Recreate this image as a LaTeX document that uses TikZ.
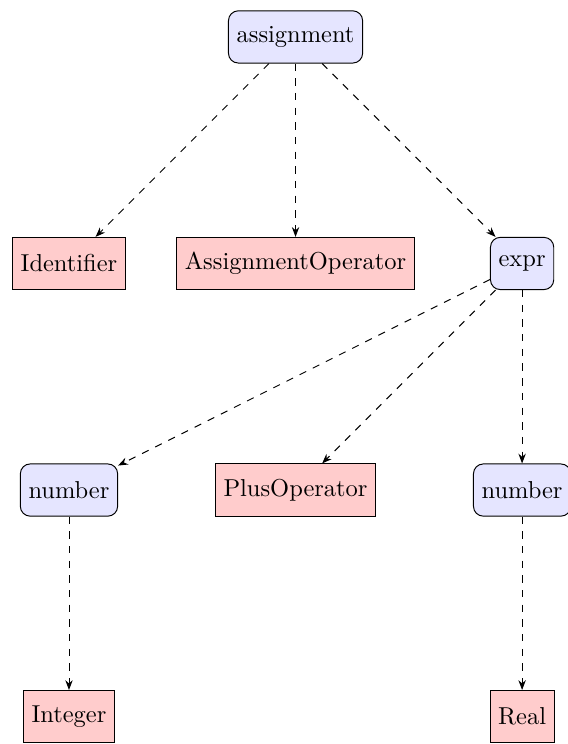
\documentclass[tikz,border=0pt]{standalone}
\usetikzlibrary{arrows.meta}
\begin{document}
\begin{tikzpicture}[x=1pt,y=1pt,
  nonterm/.style={draw, fill=blue!10, rounded corners=4pt, minimum height=0.75cm, inner xsep=0.333em},
  term/.style={draw, fill=red!20, minimum height=0.75cm, inner xsep=0.333em},
  edge/.style={dashed, -{Stealth[length=4pt,width=3pt]}}]
  \useasboundingbox (-120.8,15.1) rectangle (111,-289);
  % grid spacing of the parse tree
  \def\gx{92.6}
  \def\gy{92.6}
  \node[nonterm] (assign) at (0,0) {assignment};
  \node[term]    (ident)  at (-\gx,-\gy) {Identifier};
  \node[term]    (assop)  at (0,-\gy) {AssignmentOperator};
  \node[nonterm] (expr)   at (\gx,-\gy) {expr};
  \node[nonterm] (numA)   at (-\gx,-2*\gy) {number};
  \node[term]    (plus)   at (0,-2*\gy) {PlusOperator};
  \node[nonterm] (numB)   at (\gx,-2*\gy) {number};
  \node[term]    (int)    at (-\gx,-3*\gy) {Integer};
  \node[term]    (real)   at (\gx,-3*\gy) {Real};
  \draw[edge] (assign) -- (ident);
  \draw[edge] (assign) -- (assop);
  \draw[edge] (assign) -- (expr);
  \draw[edge] (expr) -- (numA);
  \draw[edge] (expr) -- (plus);
  \draw[edge] (expr) -- (numB);
  \draw[edge] (numA) -- (int);
  \draw[edge] (numB) -- (real);
\end{tikzpicture}
\end{document}
